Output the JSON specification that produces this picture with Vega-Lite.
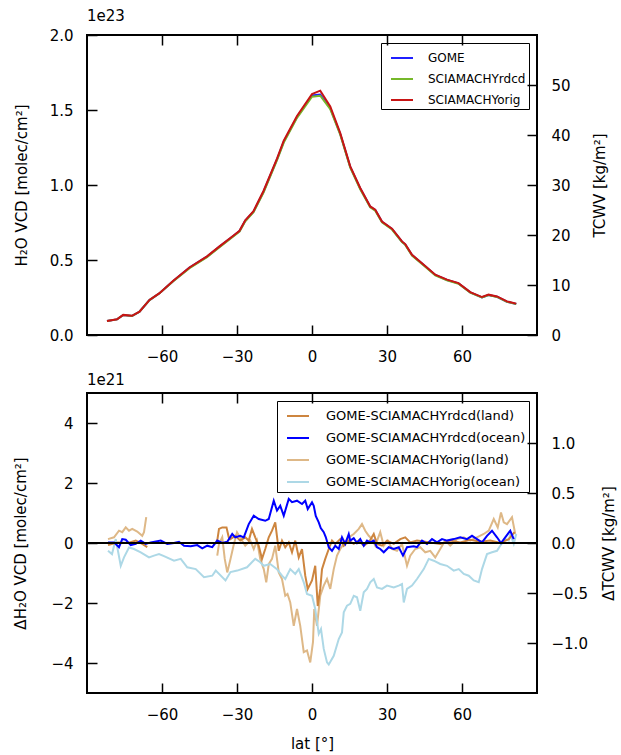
{
  "$schema": "https://vega.github.io/schema/vega-lite/v6.json",
  "padding": {"left": 12, "top": 8, "right": 0, "bottom": 0},
  "spacing": 7,
  "resolve": {"scale": {"color": "independent"}},
  "datasets": {
    "top": [
      {"s":"GOME","lat":-82,"v":0.093},{"s":"GOME","lat":-78,"v":0.104},{"s":"GOME","lat":-75.5,"v":0.133},{"s":"GOME","lat":-72,"v":0.127},{"s":"GOME","lat":-69,"v":0.155},{"s":"GOME","lat":-65,"v":0.233},{"s":"GOME","lat":-61,"v":0.278},{"s":"GOME","lat":-55.5,"v":0.36},{"s":"GOME","lat":-49,"v":0.449},{"s":"GOME","lat":-42,"v":0.522},{"s":"GOME","lat":-37,"v":0.589},{"s":"GOME","lat":-31.5,"v":0.66},{"s":"GOME","lat":-29,"v":0.693},{"s":"GOME","lat":-26.7,"v":0.762},{"s":"GOME","lat":-23.4,"v":0.822},{"s":"GOME","lat":-19.4,"v":0.955},{"s":"GOME","lat":-14,"v":1.17},{"s":"GOME","lat":-11.3,"v":1.289},{"s":"GOME","lat":-6,"v":1.453},{"s":"GOME","lat":0,"v":1.597},{"s":"GOME","lat":3.3,"v":1.603},{"s":"GOME","lat":7.3,"v":1.512},{"s":"GOME","lat":11.3,"v":1.34},{"s":"GOME","lat":15.3,"v":1.12},{"s":"GOME","lat":19.3,"v":0.976},{"s":"GOME","lat":23.3,"v":0.855},{"s":"GOME","lat":25.3,"v":0.833},{"s":"GOME","lat":28,"v":0.755},{"s":"GOME","lat":32,"v":0.707},{"s":"GOME","lat":36,"v":0.622},{"s":"GOME","lat":37.3,"v":0.604},{"s":"GOME","lat":40,"v":0.533},{"s":"GOME","lat":44.7,"v":0.467},{"s":"GOME","lat":49.3,"v":0.4},{"s":"GOME","lat":54,"v":0.367},{"s":"GOME","lat":58.6,"v":0.344},{"s":"GOME","lat":63.3,"v":0.284},{"s":"GOME","lat":68,"v":0.251},{"s":"GOME","lat":70.6,"v":0.267},{"s":"GOME","lat":74,"v":0.255},{"s":"GOME","lat":78,"v":0.222},{"s":"GOME","lat":81.7,"v":0.207},
      {"s":"SCIAMACHYrdcd","lat":-82,"v":0.093},{"s":"SCIAMACHYrdcd","lat":-78,"v":0.104},{"s":"SCIAMACHYrdcd","lat":-75.5,"v":0.133},{"s":"SCIAMACHYrdcd","lat":-72,"v":0.127},{"s":"SCIAMACHYrdcd","lat":-69,"v":0.155},{"s":"SCIAMACHYrdcd","lat":-65,"v":0.233},{"s":"SCIAMACHYrdcd","lat":-61,"v":0.278},{"s":"SCIAMACHYrdcd","lat":-55.5,"v":0.358},{"s":"SCIAMACHYrdcd","lat":-49,"v":0.446},{"s":"SCIAMACHYrdcd","lat":-42,"v":0.519},{"s":"SCIAMACHYrdcd","lat":-37,"v":0.586},{"s":"SCIAMACHYrdcd","lat":-31.5,"v":0.657},{"s":"SCIAMACHYrdcd","lat":-29,"v":0.69},{"s":"SCIAMACHYrdcd","lat":-26.7,"v":0.758},{"s":"SCIAMACHYrdcd","lat":-23.4,"v":0.818},{"s":"SCIAMACHYrdcd","lat":-19.4,"v":0.95},{"s":"SCIAMACHYrdcd","lat":-14,"v":1.165},{"s":"SCIAMACHYrdcd","lat":-11.3,"v":1.283},{"s":"SCIAMACHYrdcd","lat":-6,"v":1.448},{"s":"SCIAMACHYrdcd","lat":0,"v":1.589},{"s":"SCIAMACHYrdcd","lat":3.3,"v":1.595},{"s":"SCIAMACHYrdcd","lat":7.3,"v":1.506},{"s":"SCIAMACHYrdcd","lat":11.3,"v":1.336},{"s":"SCIAMACHYrdcd","lat":15.3,"v":1.116},{"s":"SCIAMACHYrdcd","lat":19.3,"v":0.972},{"s":"SCIAMACHYrdcd","lat":23.3,"v":0.851},{"s":"SCIAMACHYrdcd","lat":25.3,"v":0.829},{"s":"SCIAMACHYrdcd","lat":28,"v":0.751},{"s":"SCIAMACHYrdcd","lat":32,"v":0.703},{"s":"SCIAMACHYrdcd","lat":36,"v":0.619},{"s":"SCIAMACHYrdcd","lat":37.3,"v":0.601},{"s":"SCIAMACHYrdcd","lat":40,"v":0.53},{"s":"SCIAMACHYrdcd","lat":44.7,"v":0.464},{"s":"SCIAMACHYrdcd","lat":49.3,"v":0.398},{"s":"SCIAMACHYrdcd","lat":54,"v":0.365},{"s":"SCIAMACHYrdcd","lat":58.6,"v":0.342},{"s":"SCIAMACHYrdcd","lat":63.3,"v":0.283},{"s":"SCIAMACHYrdcd","lat":68,"v":0.25},{"s":"SCIAMACHYrdcd","lat":70.6,"v":0.266},{"s":"SCIAMACHYrdcd","lat":74,"v":0.254},{"s":"SCIAMACHYrdcd","lat":78,"v":0.221},{"s":"SCIAMACHYrdcd","lat":81.7,"v":0.206},
      {"s":"SCIAMACHYorig","lat":-82,"v":0.094},{"s":"SCIAMACHYorig","lat":-78,"v":0.105},{"s":"SCIAMACHYorig","lat":-75.5,"v":0.134},{"s":"SCIAMACHYorig","lat":-72,"v":0.128},{"s":"SCIAMACHYorig","lat":-69,"v":0.156},{"s":"SCIAMACHYorig","lat":-65,"v":0.234},{"s":"SCIAMACHYorig","lat":-61,"v":0.279},{"s":"SCIAMACHYorig","lat":-55.5,"v":0.361},{"s":"SCIAMACHYorig","lat":-49,"v":0.45},{"s":"SCIAMACHYorig","lat":-42,"v":0.524},{"s":"SCIAMACHYorig","lat":-37,"v":0.591},{"s":"SCIAMACHYorig","lat":-31.5,"v":0.662},{"s":"SCIAMACHYorig","lat":-29,"v":0.695},{"s":"SCIAMACHYorig","lat":-26.7,"v":0.765},{"s":"SCIAMACHYorig","lat":-23.4,"v":0.826},{"s":"SCIAMACHYorig","lat":-19.4,"v":0.96},{"s":"SCIAMACHYorig","lat":-14,"v":1.176},{"s":"SCIAMACHYorig","lat":-11.3,"v":1.295},{"s":"SCIAMACHYorig","lat":-6,"v":1.46},{"s":"SCIAMACHYorig","lat":0,"v":1.606},{"s":"SCIAMACHYorig","lat":3.3,"v":1.629},{"s":"SCIAMACHYorig","lat":7.3,"v":1.524},{"s":"SCIAMACHYorig","lat":11.3,"v":1.346},{"s":"SCIAMACHYorig","lat":15.3,"v":1.124},{"s":"SCIAMACHYorig","lat":19.3,"v":0.98},{"s":"SCIAMACHYorig","lat":23.3,"v":0.857},{"s":"SCIAMACHYorig","lat":25.3,"v":0.835},{"s":"SCIAMACHYorig","lat":28,"v":0.757},{"s":"SCIAMACHYorig","lat":32,"v":0.709},{"s":"SCIAMACHYorig","lat":36,"v":0.624},{"s":"SCIAMACHYorig","lat":37.3,"v":0.606},{"s":"SCIAMACHYorig","lat":40,"v":0.535},{"s":"SCIAMACHYorig","lat":44.7,"v":0.469},{"s":"SCIAMACHYorig","lat":49.3,"v":0.402},{"s":"SCIAMACHYorig","lat":54,"v":0.369},{"s":"SCIAMACHYorig","lat":58.6,"v":0.346},{"s":"SCIAMACHYorig","lat":63.3,"v":0.286},{"s":"SCIAMACHYorig","lat":68,"v":0.253},{"s":"SCIAMACHYorig","lat":70.6,"v":0.269},{"s":"SCIAMACHYorig","lat":74,"v":0.257},{"s":"SCIAMACHYorig","lat":78,"v":0.224},{"s":"SCIAMACHYorig","lat":81.7,"v":0.209}
    ],
    "bot": [
      {"s":"GOME-SCIAMACHYorig(land)","g":"a","lat":-81.6,"v":0.13},{"s":"GOME-SCIAMACHYorig(land)","g":"a","lat":-79.2,"v":0.19},{"s":"GOME-SCIAMACHYorig(land)","g":"a","lat":-77.2,"v":0.41},{"s":"GOME-SCIAMACHYorig(land)","g":"a","lat":-75.9,"v":0.36},{"s":"GOME-SCIAMACHYorig(land)","g":"a","lat":-74.5,"v":0.52},{"s":"GOME-SCIAMACHYorig(land)","g":"a","lat":-73.2,"v":0.41},{"s":"GOME-SCIAMACHYorig(land)","g":"a","lat":-71.9,"v":0.47},{"s":"GOME-SCIAMACHYorig(land)","g":"a","lat":-69.9,"v":0.38},{"s":"GOME-SCIAMACHYorig(land)","g":"a","lat":-67.9,"v":0.24},{"s":"GOME-SCIAMACHYorig(land)","g":"a","lat":-67.2,"v":0.36},{"s":"GOME-SCIAMACHYorig(land)","g":"a","lat":-66.3,"v":0.86},
      {"s":"GOME-SCIAMACHYorig(land)","g":"b","lat":-37.9,"v":-0.42},{"s":"GOME-SCIAMACHYorig(land)","g":"b","lat":-37.2,"v":-0.03},{"s":"GOME-SCIAMACHYorig(land)","g":"b","lat":-35.9,"v":0.19},{"s":"GOME-SCIAMACHYorig(land)","g":"b","lat":-34.9,"v":-0.53},{"s":"GOME-SCIAMACHYorig(land)","g":"b","lat":-33.9,"v":-0.98},{"s":"GOME-SCIAMACHYorig(land)","g":"b","lat":-32.6,"v":-0.53},{"s":"GOME-SCIAMACHYorig(land)","g":"b","lat":-31.4,"v":-0.09},{"s":"GOME-SCIAMACHYorig(land)","g":"b","lat":-30,"v":0.36},{"s":"GOME-SCIAMACHYorig(land)","g":"b","lat":-28,"v":0.08},{"s":"GOME-SCIAMACHYorig(land)","g":"b","lat":-26.7,"v":-0.09},{"s":"GOME-SCIAMACHYorig(land)","g":"b","lat":-24.7,"v":0.08},{"s":"GOME-SCIAMACHYorig(land)","g":"b","lat":-23.3,"v":-0.2},{"s":"GOME-SCIAMACHYorig(land)","g":"b","lat":-22,"v":0.08},{"s":"GOME-SCIAMACHYorig(land)","g":"b","lat":-20.7,"v":-0.53},{"s":"GOME-SCIAMACHYorig(land)","g":"b","lat":-19.3,"v":-0.87},{"s":"GOME-SCIAMACHYorig(land)","g":"b","lat":-18.3,"v":-1.31},{"s":"GOME-SCIAMACHYorig(land)","g":"b","lat":-17.3,"v":-0.7},{"s":"GOME-SCIAMACHYorig(land)","g":"b","lat":-16,"v":-0.53},{"s":"GOME-SCIAMACHYorig(land)","g":"b","lat":-14.7,"v":-0.09},{"s":"GOME-SCIAMACHYorig(land)","g":"b","lat":-13.3,"v":-0.98},{"s":"GOME-SCIAMACHYorig(land)","g":"b","lat":-12,"v":-1.2},{"s":"GOME-SCIAMACHYorig(land)","g":"b","lat":-10.7,"v":-1.76},{"s":"GOME-SCIAMACHYorig(land)","g":"b","lat":-9.8,"v":-1.7},{"s":"GOME-SCIAMACHYorig(land)","g":"b","lat":-8.7,"v":-1.98},{"s":"GOME-SCIAMACHYorig(land)","g":"b","lat":-7.3,"v":-2.76},{"s":"GOME-SCIAMACHYorig(land)","g":"b","lat":-6,"v":-2.2},{"s":"GOME-SCIAMACHYorig(land)","g":"b","lat":-4.7,"v":-2.76},{"s":"GOME-SCIAMACHYorig(land)","g":"b","lat":-3.3,"v":-3.64},{"s":"GOME-SCIAMACHYorig(land)","g":"b","lat":-2,"v":-3.58},{"s":"GOME-SCIAMACHYorig(land)","g":"b","lat":-0.7,"v":-3.98},{"s":"GOME-SCIAMACHYorig(land)","g":"b","lat":0.4,"v":-3.3},{"s":"GOME-SCIAMACHYorig(land)","g":"b","lat":0.9,"v":-2.2},{"s":"GOME-SCIAMACHYorig(land)","g":"b","lat":2,"v":-2.76},{"s":"GOME-SCIAMACHYorig(land)","g":"b","lat":3.3,"v":-1.76},{"s":"GOME-SCIAMACHYorig(land)","g":"b","lat":4.7,"v":-1.42},{"s":"GOME-SCIAMACHYorig(land)","g":"b","lat":6,"v":-1.2},{"s":"GOME-SCIAMACHYorig(land)","g":"b","lat":7.3,"v":-1.53},{"s":"GOME-SCIAMACHYorig(land)","g":"b","lat":8.7,"v":-0.87},{"s":"GOME-SCIAMACHYorig(land)","g":"b","lat":10,"v":-0.42},{"s":"GOME-SCIAMACHYorig(land)","g":"b","lat":11.3,"v":-0.2},{"s":"GOME-SCIAMACHYorig(land)","g":"b","lat":12.7,"v":-0.03},{"s":"GOME-SCIAMACHYorig(land)","g":"b","lat":14.7,"v":0.19},{"s":"GOME-SCIAMACHYorig(land)","g":"b","lat":16.7,"v":0.3},{"s":"GOME-SCIAMACHYorig(land)","g":"b","lat":18.7,"v":0.47},{"s":"GOME-SCIAMACHYorig(land)","g":"b","lat":20,"v":0.63},{"s":"GOME-SCIAMACHYorig(land)","g":"b","lat":21.3,"v":0.41},{"s":"GOME-SCIAMACHYorig(land)","g":"b","lat":22.7,"v":0.24},{"s":"GOME-SCIAMACHYorig(land)","g":"b","lat":24,"v":0.13},{"s":"GOME-SCIAMACHYorig(land)","g":"b","lat":25.3,"v":-0.09},{"s":"GOME-SCIAMACHYorig(land)","g":"b","lat":27.3,"v":0.36},{"s":"GOME-SCIAMACHYorig(land)","g":"b","lat":28.7,"v":-0.09},{"s":"GOME-SCIAMACHYorig(land)","g":"b","lat":30.3,"v":0.08},{"s":"GOME-SCIAMACHYorig(land)","g":"b","lat":32,"v":-0.2},{"s":"GOME-SCIAMACHYorig(land)","g":"b","lat":34,"v":-0.26},{"s":"GOME-SCIAMACHYorig(land)","g":"b","lat":36,"v":-0.03},{"s":"GOME-SCIAMACHYorig(land)","g":"b","lat":38,"v":-0.76},{"s":"GOME-SCIAMACHYorig(land)","g":"b","lat":39.3,"v":-0.42},{"s":"GOME-SCIAMACHYorig(land)","g":"b","lat":41.3,"v":-0.2},{"s":"GOME-SCIAMACHYorig(land)","g":"b","lat":43.3,"v":-0.14},{"s":"GOME-SCIAMACHYorig(land)","g":"b","lat":45.3,"v":-0.31},{"s":"GOME-SCIAMACHYorig(land)","g":"b","lat":47.3,"v":-0.26},{"s":"GOME-SCIAMACHYorig(land)","g":"b","lat":49.3,"v":-0.48},{"s":"GOME-SCIAMACHYorig(land)","g":"b","lat":51.3,"v":-0.2},{"s":"GOME-SCIAMACHYorig(land)","g":"b","lat":53.3,"v":0.08},{"s":"GOME-SCIAMACHYorig(land)","g":"b","lat":55.3,"v":-0.09},{"s":"GOME-SCIAMACHYorig(land)","g":"b","lat":58,"v":0.13},{"s":"GOME-SCIAMACHYorig(land)","g":"b","lat":60.7,"v":0.19},{"s":"GOME-SCIAMACHYorig(land)","g":"b","lat":63.3,"v":0.08},{"s":"GOME-SCIAMACHYorig(land)","g":"b","lat":66,"v":0.19},{"s":"GOME-SCIAMACHYorig(land)","g":"b","lat":68.7,"v":0.3},{"s":"GOME-SCIAMACHYorig(land)","g":"b","lat":70.7,"v":0.41},{"s":"GOME-SCIAMACHYorig(land)","g":"b","lat":72.7,"v":0.8},{"s":"GOME-SCIAMACHYorig(land)","g":"b","lat":74.3,"v":0.52},{"s":"GOME-SCIAMACHYorig(land)","g":"b","lat":75.6,"v":1.02},{"s":"GOME-SCIAMACHYorig(land)","g":"b","lat":76.7,"v":0.69},{"s":"GOME-SCIAMACHYorig(land)","g":"b","lat":78,"v":0.63},{"s":"GOME-SCIAMACHYorig(land)","g":"b","lat":80,"v":0.86},{"s":"GOME-SCIAMACHYorig(land)","g":"b","lat":81.3,"v":0.3},
      {"s":"GOME-SCIAMACHYorig(ocean)","g":"a","lat":-81.6,"v":-0.26},{"s":"GOME-SCIAMACHYorig(ocean)","g":"a","lat":-80,"v":-0.37},{"s":"GOME-SCIAMACHYorig(ocean)","g":"a","lat":-78.5,"v":0.13},{"s":"GOME-SCIAMACHYorig(ocean)","g":"a","lat":-76.5,"v":-0.76},{"s":"GOME-SCIAMACHYorig(ocean)","g":"a","lat":-75.2,"v":-0.48},{"s":"GOME-SCIAMACHYorig(ocean)","g":"a","lat":-73.2,"v":-0.15},{"s":"GOME-SCIAMACHYorig(ocean)","g":"a","lat":-71.2,"v":-0.2},{"s":"GOME-SCIAMACHYorig(ocean)","g":"a","lat":-68.5,"v":-0.31},{"s":"GOME-SCIAMACHYorig(ocean)","g":"a","lat":-65.2,"v":-0.48},{"s":"GOME-SCIAMACHYorig(ocean)","g":"a","lat":-63.2,"v":-0.42},{"s":"GOME-SCIAMACHYorig(ocean)","g":"a","lat":-61.2,"v":-0.37},{"s":"GOME-SCIAMACHYorig(ocean)","g":"a","lat":-59.2,"v":-0.44},{"s":"GOME-SCIAMACHYorig(ocean)","g":"a","lat":-55.2,"v":-0.59},{"s":"GOME-SCIAMACHYorig(ocean)","g":"a","lat":-52.5,"v":-0.53},{"s":"GOME-SCIAMACHYorig(ocean)","g":"a","lat":-49.9,"v":-0.81},{"s":"GOME-SCIAMACHYorig(ocean)","g":"a","lat":-46.5,"v":-0.87},{"s":"GOME-SCIAMACHYorig(ocean)","g":"a","lat":-43.2,"v":-1.14},{"s":"GOME-SCIAMACHYorig(ocean)","g":"a","lat":-39.9,"v":-1.09},{"s":"GOME-SCIAMACHYorig(ocean)","g":"a","lat":-38.5,"v":-0.92},{"s":"GOME-SCIAMACHYorig(ocean)","g":"a","lat":-34.6,"v":-1.25},{"s":"GOME-SCIAMACHYorig(ocean)","g":"a","lat":-32.6,"v":-0.97},{"s":"GOME-SCIAMACHYorig(ocean)","g":"a","lat":-29.9,"v":-0.92},{"s":"GOME-SCIAMACHYorig(ocean)","g":"a","lat":-26,"v":-0.81},{"s":"GOME-SCIAMACHYorig(ocean)","g":"a","lat":-22.7,"v":-0.53},{"s":"GOME-SCIAMACHYorig(ocean)","g":"a","lat":-20.7,"v":-0.64},{"s":"GOME-SCIAMACHYorig(ocean)","g":"a","lat":-19.3,"v":-0.76},{"s":"GOME-SCIAMACHYorig(ocean)","g":"a","lat":-16.7,"v":-0.7},{"s":"GOME-SCIAMACHYorig(ocean)","g":"a","lat":-14,"v":-0.87},{"s":"GOME-SCIAMACHYorig(ocean)","g":"a","lat":-12,"v":-1.09},{"s":"GOME-SCIAMACHYorig(ocean)","g":"a","lat":-10.7,"v":-1.2},{"s":"GOME-SCIAMACHYorig(ocean)","g":"a","lat":-8.7,"v":-0.87},{"s":"GOME-SCIAMACHYorig(ocean)","g":"a","lat":-6.7,"v":-1.03},{"s":"GOME-SCIAMACHYorig(ocean)","g":"a","lat":-5.3,"v":-0.87},{"s":"GOME-SCIAMACHYorig(ocean)","g":"a","lat":-3.3,"v":-1.31},{"s":"GOME-SCIAMACHYorig(ocean)","g":"a","lat":-2,"v":-1.7},{"s":"GOME-SCIAMACHYorig(ocean)","g":"a","lat":0,"v":-1.76},{"s":"GOME-SCIAMACHYorig(ocean)","g":"a","lat":1.3,"v":-2.2},{"s":"GOME-SCIAMACHYorig(ocean)","g":"a","lat":2.7,"v":-3.03},{"s":"GOME-SCIAMACHYorig(ocean)","g":"a","lat":3.6,"v":-2.87},{"s":"GOME-SCIAMACHYorig(ocean)","g":"a","lat":4.7,"v":-3.53},{"s":"GOME-SCIAMACHYorig(ocean)","g":"a","lat":6,"v":-3.98},{"s":"GOME-SCIAMACHYorig(ocean)","g":"a","lat":6.7,"v":-4.05},{"s":"GOME-SCIAMACHYorig(ocean)","g":"a","lat":8.7,"v":-3.76},{"s":"GOME-SCIAMACHYorig(ocean)","g":"a","lat":10.7,"v":-3.2},{"s":"GOME-SCIAMACHYorig(ocean)","g":"a","lat":12,"v":-2.98},{"s":"GOME-SCIAMACHYorig(ocean)","g":"a","lat":12.7,"v":-2.31},{"s":"GOME-SCIAMACHYorig(ocean)","g":"a","lat":14,"v":-2.09},{"s":"GOME-SCIAMACHYorig(ocean)","g":"a","lat":15.3,"v":-2.03},{"s":"GOME-SCIAMACHYorig(ocean)","g":"a","lat":16.7,"v":-1.76},{"s":"GOME-SCIAMACHYorig(ocean)","g":"a","lat":18,"v":-1.81},{"s":"GOME-SCIAMACHYorig(ocean)","g":"a","lat":19.3,"v":-2.26},{"s":"GOME-SCIAMACHYorig(ocean)","g":"a","lat":20.7,"v":-1.64},{"s":"GOME-SCIAMACHYorig(ocean)","g":"a","lat":22,"v":-1.53},{"s":"GOME-SCIAMACHYorig(ocean)","g":"a","lat":23.3,"v":-1.31},{"s":"GOME-SCIAMACHYorig(ocean)","g":"a","lat":24.7,"v":-1.2},{"s":"GOME-SCIAMACHYorig(ocean)","g":"a","lat":26,"v":-1.48},{"s":"GOME-SCIAMACHYorig(ocean)","g":"a","lat":28,"v":-1.53},{"s":"GOME-SCIAMACHYorig(ocean)","g":"a","lat":30,"v":-1.42},{"s":"GOME-SCIAMACHYorig(ocean)","g":"a","lat":32.7,"v":-1.48},{"s":"GOME-SCIAMACHYorig(ocean)","g":"a","lat":34.7,"v":-1.42},{"s":"GOME-SCIAMACHYorig(ocean)","g":"a","lat":36,"v":-1.37},{"s":"GOME-SCIAMACHYorig(ocean)","g":"a","lat":36.7,"v":-1.98},{"s":"GOME-SCIAMACHYorig(ocean)","g":"a","lat":38,"v":-1.53},{"s":"GOME-SCIAMACHYorig(ocean)","g":"a","lat":40,"v":-1.42},{"s":"GOME-SCIAMACHYorig(ocean)","g":"a","lat":42,"v":-1.2},{"s":"GOME-SCIAMACHYorig(ocean)","g":"a","lat":44.7,"v":-0.87},{"s":"GOME-SCIAMACHYorig(ocean)","g":"a","lat":46.7,"v":-0.53},{"s":"GOME-SCIAMACHYorig(ocean)","g":"a","lat":48.7,"v":-0.59},{"s":"GOME-SCIAMACHYorig(ocean)","g":"a","lat":51.3,"v":-0.7},{"s":"GOME-SCIAMACHYorig(ocean)","g":"a","lat":54,"v":-0.76},{"s":"GOME-SCIAMACHYorig(ocean)","g":"a","lat":56.7,"v":-0.92},{"s":"GOME-SCIAMACHYorig(ocean)","g":"a","lat":58.7,"v":-0.87},{"s":"GOME-SCIAMACHYorig(ocean)","g":"a","lat":60.7,"v":-1.03},{"s":"GOME-SCIAMACHYorig(ocean)","g":"a","lat":62.7,"v":-1.09},{"s":"GOME-SCIAMACHYorig(ocean)","g":"a","lat":64.7,"v":-1.25},{"s":"GOME-SCIAMACHYorig(ocean)","g":"a","lat":66.7,"v":-1.31},{"s":"GOME-SCIAMACHYorig(ocean)","g":"a","lat":68,"v":-0.87},{"s":"GOME-SCIAMACHYorig(ocean)","g":"a","lat":70,"v":-0.37},{"s":"GOME-SCIAMACHYorig(ocean)","g":"a","lat":72,"v":-0.31},{"s":"GOME-SCIAMACHYorig(ocean)","g":"a","lat":74,"v":-0.26},{"s":"GOME-SCIAMACHYorig(ocean)","g":"a","lat":75.3,"v":-0.09},{"s":"GOME-SCIAMACHYorig(ocean)","g":"a","lat":77.3,"v":0.13},{"s":"GOME-SCIAMACHYorig(ocean)","g":"a","lat":78.7,"v":0.08},{"s":"GOME-SCIAMACHYorig(ocean)","g":"a","lat":79.3,"v":0.3},{"s":"GOME-SCIAMACHYorig(ocean)","g":"a","lat":80.7,"v":-0.03},{"s":"GOME-SCIAMACHYorig(ocean)","g":"a","lat":81.7,"v":0.3},
      {"s":"GOME-SCIAMACHYrdcd(land)","g":"a","lat":-81.6,"v":-0.07},{"s":"GOME-SCIAMACHYrdcd(land)","g":"a","lat":-77.6,"v":0.02},{"s":"GOME-SCIAMACHYrdcd(land)","g":"a","lat":-73.5,"v":0},{"s":"GOME-SCIAMACHYrdcd(land)","g":"a","lat":-70.5,"v":0.08},{"s":"GOME-SCIAMACHYrdcd(land)","g":"a","lat":-67.9,"v":-0.03},{"s":"GOME-SCIAMACHYrdcd(land)","g":"a","lat":-65.9,"v":-0.14},
      {"s":"GOME-SCIAMACHYrdcd(land)","g":"b","lat":-37.9,"v":0.08},{"s":"GOME-SCIAMACHYrdcd(land)","g":"b","lat":-37.2,"v":0.47},{"s":"GOME-SCIAMACHYrdcd(land)","g":"b","lat":-35.9,"v":0.52},{"s":"GOME-SCIAMACHYrdcd(land)","g":"b","lat":-34.2,"v":0.52},{"s":"GOME-SCIAMACHYrdcd(land)","g":"b","lat":-33.3,"v":0.19},{"s":"GOME-SCIAMACHYrdcd(land)","g":"b","lat":-32.7,"v":0.13},{"s":"GOME-SCIAMACHYrdcd(land)","g":"b","lat":-30.7,"v":0.24},{"s":"GOME-SCIAMACHYrdcd(land)","g":"b","lat":-28.7,"v":0.08},{"s":"GOME-SCIAMACHYrdcd(land)","g":"b","lat":-26.7,"v":0.19},{"s":"GOME-SCIAMACHYrdcd(land)","g":"b","lat":-25.3,"v":0.08},{"s":"GOME-SCIAMACHYrdcd(land)","g":"b","lat":-24,"v":0.47},{"s":"GOME-SCIAMACHYrdcd(land)","g":"b","lat":-22.7,"v":0.19},{"s":"GOME-SCIAMACHYrdcd(land)","g":"b","lat":-21.3,"v":-0.09},{"s":"GOME-SCIAMACHYrdcd(land)","g":"b","lat":-20,"v":-0.53},{"s":"GOME-SCIAMACHYrdcd(land)","g":"b","lat":-18.7,"v":-0.2},{"s":"GOME-SCIAMACHYrdcd(land)","g":"b","lat":-17.3,"v":0.19},{"s":"GOME-SCIAMACHYrdcd(land)","g":"b","lat":-16,"v":0.41},{"s":"GOME-SCIAMACHYrdcd(land)","g":"b","lat":-14.7,"v":0.69},{"s":"GOME-SCIAMACHYrdcd(land)","g":"b","lat":-13.3,"v":-0.26},{"s":"GOME-SCIAMACHYrdcd(land)","g":"b","lat":-12,"v":0.08},{"s":"GOME-SCIAMACHYrdcd(land)","g":"b","lat":-10.7,"v":-0.14},{"s":"GOME-SCIAMACHYrdcd(land)","g":"b","lat":-9.3,"v":0.02},{"s":"GOME-SCIAMACHYrdcd(land)","g":"b","lat":-8,"v":-0.31},{"s":"GOME-SCIAMACHYrdcd(land)","g":"b","lat":-6.7,"v":0.08},{"s":"GOME-SCIAMACHYrdcd(land)","g":"b","lat":-5.3,"v":-0.48},{"s":"GOME-SCIAMACHYrdcd(land)","g":"b","lat":-4,"v":-0.2},{"s":"GOME-SCIAMACHYrdcd(land)","g":"b","lat":-2.7,"v":-1.09},{"s":"GOME-SCIAMACHYrdcd(land)","g":"b","lat":-1.7,"v":-1.53},{"s":"GOME-SCIAMACHYrdcd(land)","g":"b","lat":0,"v":-1.25},{"s":"GOME-SCIAMACHYrdcd(land)","g":"b","lat":1.3,"v":-0.76},{"s":"GOME-SCIAMACHYrdcd(land)","g":"b","lat":2.3,"v":-2.1},{"s":"GOME-SCIAMACHYrdcd(land)","g":"b","lat":3.3,"v":-1.53},{"s":"GOME-SCIAMACHYrdcd(land)","g":"b","lat":4,"v":-0.87},{"s":"GOME-SCIAMACHYrdcd(land)","g":"b","lat":5.3,"v":-0.53},{"s":"GOME-SCIAMACHYrdcd(land)","g":"b","lat":6.7,"v":-0.2},{"s":"GOME-SCIAMACHYrdcd(land)","g":"b","lat":8,"v":0.08},{"s":"GOME-SCIAMACHYrdcd(land)","g":"b","lat":9.3,"v":-0.03},{"s":"GOME-SCIAMACHYrdcd(land)","g":"b","lat":11.3,"v":0.13},{"s":"GOME-SCIAMACHYrdcd(land)","g":"b","lat":12.7,"v":-0.09},{"s":"GOME-SCIAMACHYrdcd(land)","g":"b","lat":14.7,"v":0.08},{"s":"GOME-SCIAMACHYrdcd(land)","g":"b","lat":16.7,"v":-0.03},{"s":"GOME-SCIAMACHYrdcd(land)","g":"b","lat":18.7,"v":0.08},{"s":"GOME-SCIAMACHYrdcd(land)","g":"b","lat":20.7,"v":-0.09},{"s":"GOME-SCIAMACHYrdcd(land)","g":"b","lat":22.7,"v":0.02},{"s":"GOME-SCIAMACHYrdcd(land)","g":"b","lat":24.7,"v":0.3},{"s":"GOME-SCIAMACHYrdcd(land)","g":"b","lat":26,"v":-0.03},{"s":"GOME-SCIAMACHYrdcd(land)","g":"b","lat":28,"v":-0.09},{"s":"GOME-SCIAMACHYrdcd(land)","g":"b","lat":30,"v":0.08},{"s":"GOME-SCIAMACHYrdcd(land)","g":"b","lat":32.7,"v":-0.03},{"s":"GOME-SCIAMACHYrdcd(land)","g":"b","lat":35.3,"v":0.13},{"s":"GOME-SCIAMACHYrdcd(land)","g":"b","lat":37.3,"v":0.19},{"s":"GOME-SCIAMACHYrdcd(land)","g":"b","lat":39.3,"v":0.02},{"s":"GOME-SCIAMACHYrdcd(land)","g":"b","lat":42,"v":0.08},{"s":"GOME-SCIAMACHYrdcd(land)","g":"b","lat":47.3,"v":0.02},{"s":"GOME-SCIAMACHYrdcd(land)","g":"b","lat":51.3,"v":-0.03},{"s":"GOME-SCIAMACHYrdcd(land)","g":"b","lat":55.3,"v":0.08},{"s":"GOME-SCIAMACHYrdcd(land)","g":"b","lat":59.3,"v":0.02},{"s":"GOME-SCIAMACHYrdcd(land)","g":"b","lat":63.3,"v":0.11},{"s":"GOME-SCIAMACHYrdcd(land)","g":"b","lat":67.3,"v":0.04},{"s":"GOME-SCIAMACHYrdcd(land)","g":"b","lat":71.3,"v":0.08},{"s":"GOME-SCIAMACHYrdcd(land)","g":"b","lat":75.3,"v":0},{"s":"GOME-SCIAMACHYrdcd(land)","g":"b","lat":78.7,"v":0.13},{"s":"GOME-SCIAMACHYrdcd(land)","g":"b","lat":81,"v":0.36},
      {"s":"GOME-SCIAMACHYrdcd(ocean)","g":"a","lat":-81.6,"v":0.02},{"s":"GOME-SCIAMACHYrdcd(ocean)","g":"a","lat":-79.2,"v":0.02},{"s":"GOME-SCIAMACHYrdcd(ocean)","g":"a","lat":-77.2,"v":-0.14},{"s":"GOME-SCIAMACHYrdcd(ocean)","g":"a","lat":-75.9,"v":0.13},{"s":"GOME-SCIAMACHYrdcd(ocean)","g":"a","lat":-74.5,"v":0.11},{"s":"GOME-SCIAMACHYrdcd(ocean)","g":"a","lat":-72.5,"v":-0.07},{"s":"GOME-SCIAMACHYrdcd(ocean)","g":"a","lat":-70.5,"v":-0.03},{"s":"GOME-SCIAMACHYrdcd(ocean)","g":"a","lat":-68.5,"v":0.08},{"s":"GOME-SCIAMACHYrdcd(ocean)","g":"a","lat":-66.5,"v":-0.03},{"s":"GOME-SCIAMACHYrdcd(ocean)","g":"a","lat":-64.5,"v":0.02},{"s":"GOME-SCIAMACHYrdcd(ocean)","g":"a","lat":-60.5,"v":0.08},{"s":"GOME-SCIAMACHYrdcd(ocean)","g":"a","lat":-57.9,"v":-0.03},{"s":"GOME-SCIAMACHYrdcd(ocean)","g":"a","lat":-55.2,"v":0},{"s":"GOME-SCIAMACHYrdcd(ocean)","g":"a","lat":-53.2,"v":0.04},{"s":"GOME-SCIAMACHYrdcd(ocean)","g":"a","lat":-51.2,"v":-0.09},{"s":"GOME-SCIAMACHYrdcd(ocean)","g":"a","lat":-48.5,"v":-0.11},{"s":"GOME-SCIAMACHYrdcd(ocean)","g":"a","lat":-45.9,"v":-0.07},{"s":"GOME-SCIAMACHYrdcd(ocean)","g":"a","lat":-43.9,"v":-0.18},{"s":"GOME-SCIAMACHYrdcd(ocean)","g":"a","lat":-41.9,"v":-0.09},{"s":"GOME-SCIAMACHYrdcd(ocean)","g":"a","lat":-39.9,"v":-0.14},{"s":"GOME-SCIAMACHYrdcd(ocean)","g":"a","lat":-37.9,"v":0.08},{"s":"GOME-SCIAMACHYrdcd(ocean)","g":"a","lat":-35.9,"v":0},{"s":"GOME-SCIAMACHYrdcd(ocean)","g":"a","lat":-33.9,"v":0.04},{"s":"GOME-SCIAMACHYrdcd(ocean)","g":"a","lat":-31.9,"v":0.3},{"s":"GOME-SCIAMACHYrdcd(ocean)","g":"a","lat":-30.7,"v":0.19},{"s":"GOME-SCIAMACHYrdcd(ocean)","g":"a","lat":-28.7,"v":0.24},{"s":"GOME-SCIAMACHYrdcd(ocean)","g":"a","lat":-27.3,"v":0.19},{"s":"GOME-SCIAMACHYrdcd(ocean)","g":"a","lat":-25.3,"v":0.63},{"s":"GOME-SCIAMACHYrdcd(ocean)","g":"a","lat":-23.3,"v":0.91},{"s":"GOME-SCIAMACHYrdcd(ocean)","g":"a","lat":-21.3,"v":0.8},{"s":"GOME-SCIAMACHYrdcd(ocean)","g":"a","lat":-18.7,"v":0.74},{"s":"GOME-SCIAMACHYrdcd(ocean)","g":"a","lat":-17.3,"v":0.8},{"s":"GOME-SCIAMACHYrdcd(ocean)","g":"a","lat":-15.3,"v":1.41},{"s":"GOME-SCIAMACHYrdcd(ocean)","g":"a","lat":-14,"v":1.08},{"s":"GOME-SCIAMACHYrdcd(ocean)","g":"a","lat":-12.7,"v":1.24},{"s":"GOME-SCIAMACHYrdcd(ocean)","g":"a","lat":-11.3,"v":0.91},{"s":"GOME-SCIAMACHYrdcd(ocean)","g":"a","lat":-9.3,"v":1.47},{"s":"GOME-SCIAMACHYrdcd(ocean)","g":"a","lat":-8,"v":1.36},{"s":"GOME-SCIAMACHYrdcd(ocean)","g":"a","lat":-6,"v":1.41},{"s":"GOME-SCIAMACHYrdcd(ocean)","g":"a","lat":-4,"v":1.3},{"s":"GOME-SCIAMACHYrdcd(ocean)","g":"a","lat":-2.7,"v":1.41},{"s":"GOME-SCIAMACHYrdcd(ocean)","g":"a","lat":-1.7,"v":1.13},{"s":"GOME-SCIAMACHYrdcd(ocean)","g":"a","lat":0,"v":1.36},{"s":"GOME-SCIAMACHYrdcd(ocean)","g":"a","lat":0.7,"v":1.24},{"s":"GOME-SCIAMACHYrdcd(ocean)","g":"a","lat":1.5,"v":0.9},{"s":"GOME-SCIAMACHYrdcd(ocean)","g":"a","lat":2.7,"v":0.69},{"s":"GOME-SCIAMACHYrdcd(ocean)","g":"a","lat":3.5,"v":0.5},{"s":"GOME-SCIAMACHYrdcd(ocean)","g":"a","lat":4.7,"v":0.36},{"s":"GOME-SCIAMACHYrdcd(ocean)","g":"a","lat":5.5,"v":0.2},{"s":"GOME-SCIAMACHYrdcd(ocean)","g":"a","lat":6.7,"v":-0.14},{"s":"GOME-SCIAMACHYrdcd(ocean)","g":"a","lat":8,"v":-0.26},{"s":"GOME-SCIAMACHYrdcd(ocean)","g":"a","lat":9.3,"v":-0.09},{"s":"GOME-SCIAMACHYrdcd(ocean)","g":"a","lat":10.7,"v":-0.2},{"s":"GOME-SCIAMACHYrdcd(ocean)","g":"a","lat":12,"v":0.19},{"s":"GOME-SCIAMACHYrdcd(ocean)","g":"a","lat":13.3,"v":-0.03},{"s":"GOME-SCIAMACHYrdcd(ocean)","g":"a","lat":14.7,"v":0.3},{"s":"GOME-SCIAMACHYrdcd(ocean)","g":"a","lat":15.3,"v":0.08},{"s":"GOME-SCIAMACHYrdcd(ocean)","g":"a","lat":16.7,"v":0.16},{"s":"GOME-SCIAMACHYrdcd(ocean)","g":"a","lat":18,"v":0},{"s":"GOME-SCIAMACHYrdcd(ocean)","g":"a","lat":19.3,"v":0.13},{"s":"GOME-SCIAMACHYrdcd(ocean)","g":"a","lat":20.7,"v":-0.09},{"s":"GOME-SCIAMACHYrdcd(ocean)","g":"a","lat":22,"v":0.08},{"s":"GOME-SCIAMACHYrdcd(ocean)","g":"a","lat":23.3,"v":0.02},{"s":"GOME-SCIAMACHYrdcd(ocean)","g":"a","lat":24.7,"v":0.08},{"s":"GOME-SCIAMACHYrdcd(ocean)","g":"a","lat":26,"v":-0.14},{"s":"GOME-SCIAMACHYrdcd(ocean)","g":"a","lat":27.3,"v":-0.2},{"s":"GOME-SCIAMACHYrdcd(ocean)","g":"a","lat":28.7,"v":-0.31},{"s":"GOME-SCIAMACHYrdcd(ocean)","g":"a","lat":30.7,"v":-0.14},{"s":"GOME-SCIAMACHYrdcd(ocean)","g":"a","lat":32.7,"v":-0.2},{"s":"GOME-SCIAMACHYrdcd(ocean)","g":"a","lat":34.7,"v":-0.14},{"s":"GOME-SCIAMACHYrdcd(ocean)","g":"a","lat":36.4,"v":-0.42},{"s":"GOME-SCIAMACHYrdcd(ocean)","g":"a","lat":38,"v":-0.14},{"s":"GOME-SCIAMACHYrdcd(ocean)","g":"a","lat":40.7,"v":-0.11},{"s":"GOME-SCIAMACHYrdcd(ocean)","g":"a","lat":42,"v":-0.14},{"s":"GOME-SCIAMACHYrdcd(ocean)","g":"a","lat":44,"v":0.08},{"s":"GOME-SCIAMACHYrdcd(ocean)","g":"a","lat":46,"v":-0.03},{"s":"GOME-SCIAMACHYrdcd(ocean)","g":"a","lat":48,"v":0.13},{"s":"GOME-SCIAMACHYrdcd(ocean)","g":"a","lat":50,"v":0.02},{"s":"GOME-SCIAMACHYrdcd(ocean)","g":"a","lat":52,"v":0.13},{"s":"GOME-SCIAMACHYrdcd(ocean)","g":"a","lat":54,"v":0.08},{"s":"GOME-SCIAMACHYrdcd(ocean)","g":"a","lat":56.7,"v":0.13},{"s":"GOME-SCIAMACHYrdcd(ocean)","g":"a","lat":59.3,"v":0.19},{"s":"GOME-SCIAMACHYrdcd(ocean)","g":"a","lat":62,"v":0.13},{"s":"GOME-SCIAMACHYrdcd(ocean)","g":"a","lat":64,"v":0.24},{"s":"GOME-SCIAMACHYrdcd(ocean)","g":"a","lat":66,"v":0.13},{"s":"GOME-SCIAMACHYrdcd(ocean)","g":"a","lat":68,"v":0.02},{"s":"GOME-SCIAMACHYrdcd(ocean)","g":"a","lat":70,"v":0.24},{"s":"GOME-SCIAMACHYrdcd(ocean)","g":"a","lat":72,"v":0.41},{"s":"GOME-SCIAMACHYrdcd(ocean)","g":"a","lat":74,"v":0.19},{"s":"GOME-SCIAMACHYrdcd(ocean)","g":"a","lat":75.6,"v":0},{"s":"GOME-SCIAMACHYrdcd(ocean)","g":"a","lat":77.3,"v":0.19},{"s":"GOME-SCIAMACHYrdcd(ocean)","g":"a","lat":79.3,"v":0.41},{"s":"GOME-SCIAMACHYrdcd(ocean)","g":"a","lat":80.7,"v":0.13}
    ]
  },
  "vconcat": [
    {
      "width": 450,
      "height": 300,
      "title": {"text": "1e23", "anchor": "start", "frame": "group", "fontSize": 15, "fontWeight": "normal", "offset": 4},
      "layer": [
        {
          "data": {"name": "top"},
          "mark": {"type": "line", "strokeWidth": 2, "clip": true},
          "encoding": {
            "x": {"field": "lat", "type": "quantitative", "scale": {"domain": [-90, 90], "nice": false, "zero": false},
                  "axis": {"orient": "bottom", "values": [-60, -30, 0, 30, 60], "title": null, "offset": -10, "tickSize": 10, "labelPadding": 14, "zindex": 1}},
            "y": {"field": "v", "type": "quantitative", "scale": {"domain": [0, 2], "nice": false},
                  "axis": {"orient": "left", "values": [0, 0.5, 1, 1.5, 2], "format": ".1f", "title": "H₂O VCD [molec/cm²]", "titlePadding": 20, "tickSize": -10, "labelPadding": 24, "zindex": 1}},
            "color": {"field": "s", "type": "nominal",
                      "scale": {"domain": ["GOME", "SCIAMACHYrdcd", "SCIAMACHYorig"], "range": ["#1f1fff", "#76b82a", "#c81414"]},
                      "legend": {"orient": "top-right", "offset": 8, "title": null, "strokeColor": "black", "fillColor": "white", "padding": 3, "symbolType": "stroke", "symbolSize": 484, "symbolStrokeWidth": 2, "rowPadding": 3, "labelFontSize": 12, "labelOffset": 14, "symbolOffset": 6, "labelLimit": 400}}
          }
        },
        {
          "data": {"values": [{}]},
          "mark": {"type": "rule", "opacity": 0},
          "encoding": {
            "x": {"datum": 0, "type": "quantitative", "axis": {"orient": "top", "values": [-60, -30, 0, 30, 60], "labels": false, "title": null, "offset": -10, "tickSize": 10, "labelPadding": 0, "zindex": 1}},
            "y": {"datum": 0, "type": "quantitative", "scale": {"domain": [0, 60], "nice": false},
                  "axis": {"orient": "right", "values": [0, 10, 20, 30, 40, 50], "title": "TCWV [kg/m²]", "titleAngle": 270, "titleBaseline": "top", "titlePadding": 22, "tickSize": -10, "labelPadding": 24, "zindex": 1}}
          }
        }
      ],
      "resolve": {"scale": {"y": "independent"}, "axis": {"x": "independent", "y": "independent"}}
    },
    {
      "width": 450,
      "height": 300,
      "title": {"text": "1e21", "anchor": "start", "frame": "group", "fontSize": 15, "fontWeight": "normal", "offset": 4},
      "layer": [
        {
          "data": {"name": "bot"},
          "mark": {"type": "line", "strokeWidth": 2, "clip": true},
          "encoding": {
            "x": {"field": "lat", "type": "quantitative", "scale": {"domain": [-90, 90], "nice": false, "zero": false},
                  "axis": {"orient": "bottom", "values": [-60, -30, 0, 30, 60], "title": "lat [°]", "titlePadding": 14, "offset": -10, "tickSize": 10, "labelPadding": 14, "zindex": 1}},
            "y": {"field": "v", "type": "quantitative", "scale": {"domain": [-5, 5], "nice": false},
                  "axis": {"orient": "left", "values": [-4, -2, 0, 2, 4], "title": "ΔH₂O VCD [molec/cm²]", "titlePadding": 22, "tickSize": -10, "labelPadding": 24, "zindex": 1}},
            "color": {"field": "s", "type": "nominal",
                      "scale": {"domain": ["GOME-SCIAMACHYrdcd(land)", "GOME-SCIAMACHYrdcd(ocean)", "GOME-SCIAMACHYorig(land)", "GOME-SCIAMACHYorig(ocean)"], "range": ["#cd853f", "#0000ff", "#deb887", "#add8e6"]},
                      "legend": {"orient": "top-right", "offset": 8, "title": null, "strokeColor": "black", "fillColor": "white", "padding": 3, "symbolType": "stroke", "symbolSize": 484, "symbolStrokeWidth": 2, "rowPadding": 3, "labelFontSize": 13, "labelOffset": 16, "symbolOffset": 6, "labelLimit": 400}},
            "detail": {"field": "g", "type": "nominal"}
          }
        },
        {
          "data": {"values": [{}]},
          "mark": {"type": "rule", "color": "black", "strokeWidth": 2},
          "encoding": {
            "y": {"datum": 0, "type": "quantitative", "scale": {"domain": [-5, 5], "nice": false}, "axis": null}
          }
        },
        {
          "data": {"values": [{}]},
          "mark": {"type": "rule", "opacity": 0},
          "encoding": {
            "x": {"datum": 0, "type": "quantitative", "axis": {"orient": "top", "values": [-60, -30, 0, 30, 60], "labels": false, "title": null, "offset": -10, "tickSize": 10, "labelPadding": 0, "zindex": 1}},
            "y": {"datum": 0, "type": "quantitative", "scale": {"domain": [-1.5, 1.5], "nice": false},
                  "axis": {"orient": "right", "values": [-1, -0.5, 0, 0.5, 1], "format": ".1f", "title": "ΔTCWV [kg/m²]", "titleAngle": 270, "titleBaseline": "top", "titlePadding": 14, "tickSize": -10, "labelPadding": 24, "zindex": 1}}
          }
        }
      ],
      "resolve": {"scale": {"y": "independent"}, "axis": {"x": "independent", "y": "independent"}}
    }
  ],
  "config": {
    "font": "DejaVu Sans",
    "view": {"stroke": "black", "strokeWidth": 2},
    "axis": {"domain": false, "grid": false, "ticks": true, "tickColor": "black", "tickWidth": 1.5, "labelFontSize": 15, "labelColor": "black", "labelFont": "DejaVu Sans", "titleFont": "DejaVu Sans", "titleFontSize": 15, "titleFontWeight": "normal", "titleColor": "black"},
    "legend": {"labelFont": "DejaVu Sans", "labelColor": "black"},
    "title": {"font": "DejaVu Sans", "color": "black"}
  }
}
